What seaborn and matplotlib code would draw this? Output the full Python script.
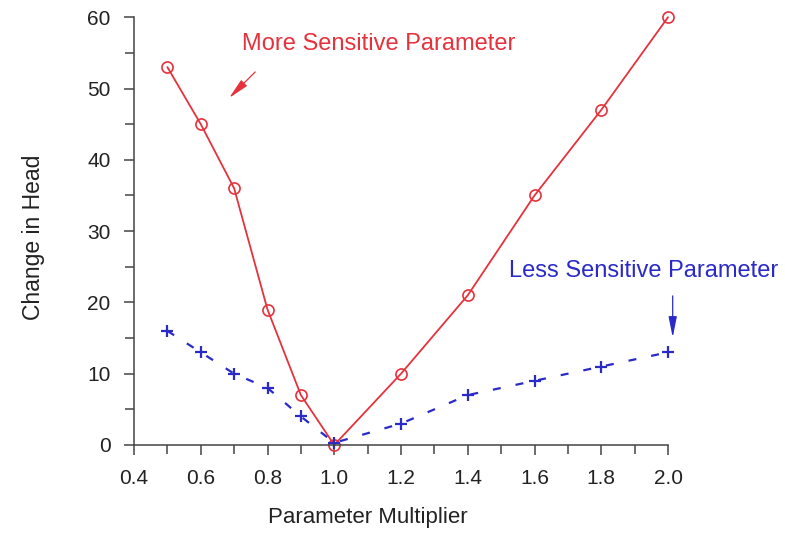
import matplotlib
matplotlib.use("Agg")
import matplotlib.pyplot as plt
import seaborn as sns
import pandas as pd
from matplotlib.ticker import MultipleLocator, FormatStrFormatter

multiplier = [0.5, 0.6, 0.7, 0.8, 0.9, 1.0, 1.2, 1.4, 1.6, 1.8, 2.0]
more_sensitive = [53, 45, 36, 19, 7, 0, 10, 21, 35, 47, 60]
less_sensitive = [16, 13, 10, 8, 4, 0.3, 3, 7, 9, 11, 13]

sns.set_theme(style="ticks")
plt.rcParams['font.family'] = ['Liberation Sans', 'DejaVu Sans']

red = '#e6323c'
blue = '#2a2ac8'
axc = '#444444'
txt = '#222222'

fig = plt.figure(figsize=(7.85, 5.38), dpi=100)
ax = fig.add_axes([0.1707, 0.1729, 0.851 - 0.1707, 0.968 - 0.1729])

df_more = pd.DataFrame({'x': multiplier, 'y': more_sensitive})
df_less = pd.DataFrame({'x': multiplier, 'y': less_sensitive})

sns.lineplot(data=df_more, x='x', y='y', ax=ax, color=red, lw=1.3,
             marker='o', markersize=8, markerfacecolor='none',
             markeredgecolor=red, markeredgewidth=1.2, clip_on=False)
sns.lineplot(data=df_less, x='x', y='y', ax=ax, color=blue, lw=1.6,
             marker='+', markersize=8.5, markeredgewidth=1.6,
             markeredgecolor=blue, clip_on=False)
ax.lines[-1].set_dashes([3.6, 6.8])

ax.set_xlim(0.4, 2.0)
ax.set_ylim(0, 60)
ax.xaxis.set_major_locator(MultipleLocator(0.2))
ax.xaxis.set_minor_locator(MultipleLocator(0.1))
ax.yaxis.set_major_locator(MultipleLocator(10))
ax.yaxis.set_minor_locator(MultipleLocator(5))
ax.xaxis.set_major_formatter(FormatStrFormatter('%.1f'))

for s in ['top', 'right']:
    ax.spines[s].set_visible(False)
for s in ['left', 'bottom']:
    ax.spines[s].set_color(axc)
    ax.spines[s].set_linewidth(1.1)

ax.tick_params(axis='both', which='major', length=7.5, width=1.1, color=axc,
               labelsize=15, labelcolor=txt, pad=9.5)
ax.tick_params(axis='both', which='minor', length=6.5, width=1.1, color=axc)

ax.set_xlabel('Parameter Multiplier', fontsize=16, color=txt, labelpad=14)
ax.set_ylabel('Change in Head', fontsize=16.5, color=txt, labelpad=30)
ax.xaxis.label.set_x(0.438)
ax.yaxis.label.set_y(0.486)

ax.text(1.134, 55.4, 'More Sensitive Parameter', color=red, fontsize=17,
        ha='center', va='baseline')
ax.annotate('', xy=(0.679, 48.4), xytext=(0.769, 52.6),
            arrowprops=dict(arrowstyle='-|>,head_length=0.9,head_width=0.18',
                            color=red, lw=0.9, mutation_scale=14))

ax.text(1.927, 23.55, 'Less Sensitive Parameter', color=blue, fontsize=17,
        ha='center', va='baseline', clip_on=False)
ax.annotate('', xy=(2.014, 14.7), xytext=(2.014, 21.3),
            arrowprops=dict(arrowstyle='-|>,head_length=0.9,head_width=0.18',
                            color=blue, lw=0.9, mutation_scale=14),
            annotation_clip=False)

fig.savefig('out.png', dpi=100)
